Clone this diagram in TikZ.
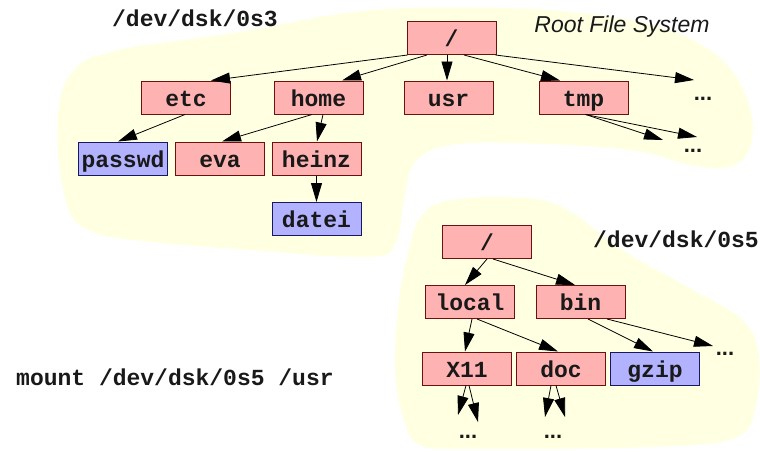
\documentclass[tikz,border=0pt]{standalone}
\usepackage{fontspec}
\setmonofont{Liberation Mono}
\setsansfont{Liberation Sans}
\usetikzlibrary{arrows.meta,calc}
\definecolor{blobc}{RGB}{255,255,226}
\definecolor{pinkf}{RGB}{255,178,178}
\definecolor{pinkd}{RGB}{110,16,16}
\definecolor{bluef}{RGB}{178,178,255}
\definecolor{blued}{RGB}{24,24,96}
\definecolor{txt}{RGB}{25,25,25}
\tikzset{
  dirbox/.style={draw=pinkd,fill=pinkf,line width=1pt,minimum width=89pt,minimum height=33pt,inner sep=0pt,
    font=\fontsize{23}{25}\selectfont\ttfamily\bfseries,text=txt,text height=19pt,text depth=2pt},
  filebox/.style={dirbox,draw=blued,fill=bluef},
  conn/.style={line width=0.8pt,-{Triangle[length=19pt,width=11pt]}},
  dots/.style={font=\fontsize{22}{24}\selectfont\sffamily\bfseries,inner sep=0pt,text=txt},
  lbl/.style={font=\fontsize{23}{25}\selectfont\ttfamily\bfseries,inner sep=0pt,text=txt,anchor=base},
}
\begin{document}
\begin{tikzpicture}[x=1pt,y=-1pt]
\useasboundingbox (0,0) rectangle (760,450);
% background blobs
\fill[blobc] plot[smooth cycle,tension=0.6] coordinates {
  (140,46) (240,32) (373,10) (530,9) (640,22) (700,44) (735,75) (752,118) (748,152) (728,167)
  (690,165) (630,150) (520,143) (450,145) (415,162) (404,200) (396,242) (370,257) (250,250)
  (133,240) (88,230) (68,208) (58,150) (61,95) (80,64) (108,53)};
\fill[blobc] plot[smooth cycle,tension=0.6] coordinates {
  (420,218) (442,202) (500,197) (560,206) (627,253) (693,290) (740,318) (758,350) (756,405)
  (735,438) (650,447) (470,449) (420,445) (404,420) (395,370) (399,300) (410,245)};
% labels
\node[lbl] (l3) at (195,26) {/dev/dsk/0s3};
\node[lbl] (l5) at (676,247) {/dev/dsk/0s5};
\node[lbl,anchor=base west] (mnt) at (16,385) {mount /dev/dsk/0s5 /usr};
\node[font=\fontsize{23}{25}\selectfont\sffamily\itshape,text=txt,inner sep=0pt,anchor=base] (rfs) at (622,32) {Root File System};
% upper tree
\node[dirbox] (root) at (451.5,38) {/};
\node[dirbox] (etc) at (186,97.5) {etc};
\node[dirbox] (home) at (318.5,97.5) {home};
\node[dirbox] (usr) at (448.5,97.5) {usr};
\node[dirbox] (tmp) at (583.5,97.5) {tmp};
\node[filebox] (passwd) at (123,158.5) {passwd};
\node[dirbox] (eva) at (220,158.5) {eva};
\node[dirbox] (heinz) at (316.5,158.5) {heinz};
\node[filebox] (datei) at (316.5,219) {datei};
\node[dots] (d1) at (703,99) {...};
\node[dots] (d2) at (693,151) {...};
\coordinate (e1) at (694,80);
\coordinate (e2a) at (697,137);
\coordinate (e2b) at (663,140);
% lower tree
\node[dirbox] (root2) at (487,242) {/};
\node[dirbox] (local) at (470,302) {local};
\node[dirbox] (bin) at (580.5,302) {bin};
\node[dirbox] (x11) at (467,368.5) {X11};
\node[dirbox] (doc) at (561,368.5) {doc};
\node[filebox] (gzip) at (655,368.5) {gzip};
\node[dots] (d3) at (725,354) {...};
\node[dots] (d4) at (468,437) {...};
\node[dots] (d5) at (553,437) {...};
\coordinate (e3) at (713,346);
\coordinate (e4a) at (458,415);
\coordinate (e4b) at (478,422);
\coordinate (e5a) at (545,417);
\coordinate (e5b) at (565,417);
% connectors upper
\draw[conn] ([xshift=1pt]root.south west) -- ([xshift=25pt]etc.north);
\draw[conn] ([xshift=-24.5pt]root.south) -- ([xshift=23.5pt]home.north);
\draw[conn] ([xshift=-4.5pt]root.south) -- ([xshift=-1.5pt]usr.north);
\draw[conn] ([xshift=12.5pt]root.south) -- ([xshift=-23.5pt]tmp.north);
\draw[conn] ([xshift=-1pt]root.south east) -- (e1);
\draw[conn] ([xshift=-1pt]etc.south) -- ([xshift=-5pt]passwd.north);
\draw[conn] ([xshift=-6.5pt]home.south) -- ([xshift=2pt]eva.north);
\draw[conn] ([xshift=4.5pt]home.south) -- ([xshift=0.5pt]heinz.north);
\draw[conn] (heinz.south) -- (datei.north);
\draw[conn] ([xshift=2pt]tmp.south) -- (e2a);
\draw[conn] ([xshift=2pt]tmp.south) -- (e2b);
% connectors lower
\draw[conn] (root2.south) -- ([xshift=-5pt]local.north);
\draw[conn] ([xshift=6pt]root2.south) -- ([xshift=-5.5pt]bin.north);
\draw[conn] ([xshift=2pt]local.south) -- ([xshift=-2pt]x11.north);
\draw[conn] ([xshift=7pt]local.south) -- ([xshift=-3pt]doc.north);
\draw[conn] ([xshift=7.5pt]bin.south) -- ([xshift=-2pt]gzip.north);
\draw[conn] ([xshift=26.5pt]bin.south) -- (e3);
\draw[conn] ([xshift=-1pt]x11.south) -- (e4a);
\draw[conn] ([xshift=2pt]x11.south) -- (e4b);
\draw[conn] ([xshift=-10pt]doc.south) -- (e5a);
\draw[conn] ([xshift=-5pt]doc.south) -- (e5b);
\end{tikzpicture}
\end{document}
